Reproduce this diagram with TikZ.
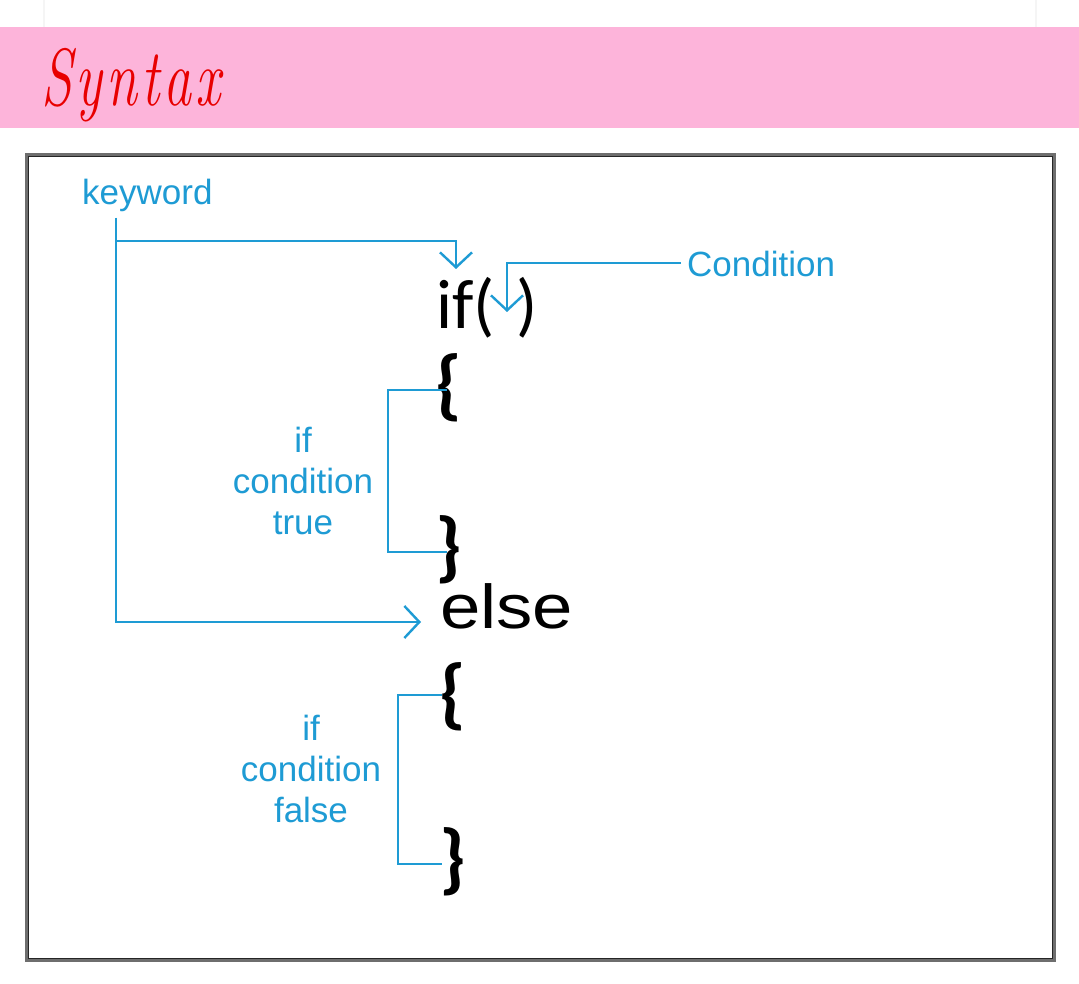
\documentclass[tikz,border=0pt]{standalone}
\usepackage{fontspec}
\setmainfont{Liberation Sans}
\newfontfamily\calfont{Carlito}
\newfontfamily\lmfont{Latin Modern Roman}
\usetikzlibrary{arrows.meta}
\definecolor{lblue}{RGB}{30,155,212}
\definecolor{pinkband}{RGB}{253,180,218}
\definecolor{synred}{RGB}{232,0,0}
\definecolor{framegray}{RGB}{110,110,110}
\tikzset{
  conn/.style={draw=lblue, line width=2.4pt},
  tipped/.style={-{Straight Barb[length=15pt,width=32pt,line width=2.4pt]}},
  lbl/.style={text=lblue, font=\fontsize{35}{41}\selectfont, inner sep=0pt},
  code/.style={text=black, inner sep=0pt},
  brace/.style={code, font=\calfont\bfseries\fontsize{78}{78}\selectfont, text height=0.5em, text depth=0pt}
}
\begin{document}
\begin{tikzpicture}[x=1pt,y=-1pt]
\useasboundingbox (0,0) rectangle (1079,984);
\fill[white] (0,0) rectangle (1079,984);
% top card and pink band
\fill[black!4] (43,0) rectangle (1037,29);
\fill[white] (45,0) rectangle (1035,27);
\fill[pinkband] (0,27) rectangle (1079,128);
\node[anchor=base west, text=synred, inner sep=0pt] (title) at (41,106)
  {\scalebox{1}[1.45]{\lmfont\itshape\fontsize{56}{56}\selectfont S\hspace{4pt}y\hspace{4pt}n\hspace{4pt}t\hspace{4pt}a\hspace{4pt}x}};
% frame
\draw[framegray, line width=3pt] (26.5,154.5) rectangle (1054.5,960.5);
\draw[black!85, line width=0.8pt] (28.2,156.2) rectangle (1052.8,958.8);
% labels
\node[lbl, anchor=base west] (kw) at (82,205) {keyword};
\node[lbl, anchor=base west] (cond) at (687,277) {Condition};
\node[lbl, align=center] (truel) at (303,481) {if\\condition\\true};
\node[lbl, align=center] (falsel) at (311,769) {if\\condition\\false};
% code
\begin{scope}
\clip (400,250) rectangle (620,340);
\node[code, anchor=base west, font=\calfont\fontsize{70}{70}\selectfont] (ifkw) at (436,328) {if(\hspace{22pt})};
\end{scope}
\node[brace] (ob1) at (449,408) {\{};
\node[brace] (cb1) at (449,570) {\}};
\node[code, anchor=base west, font=\fontsize{62}{62}\selectfont] (elsekw) at (440,628) {\scalebox{1.17}[1]{else}};
\node[brace] (ob2) at (453,717) {\{};
\node[brace] (cb2) at (453,882) {\}};
% connectors
\coordinate (kwfoot) at (116,218);
\coordinate (iftop) at (456,241);
\coordinate (iftip) at (456,269);
\coordinate (elsetip) at (421,622);
\coordinate (condstart) at (681,263);
\coordinate (condtip) at (507,312);
\draw[conn, tipped] (kwfoot) |- (iftop) -- (iftip);
\draw[conn, tipped] (kwfoot) |- (elsetip);
\draw[conn, tipped] (condstart) -| (condtip);
\coordinate (b1t) at (447,390);
\coordinate (b1b) at (447,552);
\draw[conn] (b1t) -- ++(-59,0) |- (b1b);
\coordinate (b2t) at (442,695);
\coordinate (b2b) at (442,864);
\draw[conn] (b2t) -- ++(-44,0) |- (b2b);
\end{tikzpicture}
\end{document}
